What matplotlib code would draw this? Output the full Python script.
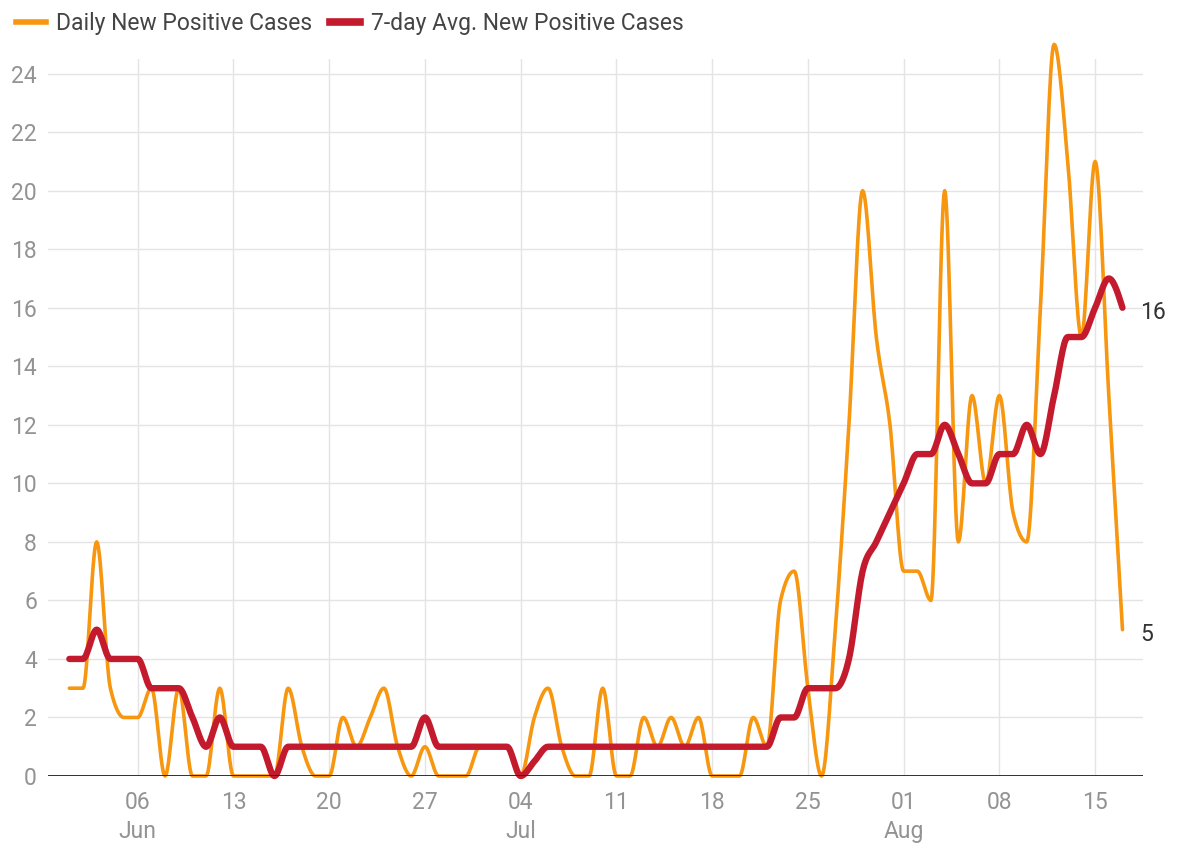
import numpy as np
import pandas as pd
import matplotlib
matplotlib.use('Agg')
import matplotlib.pyplot as plt
import matplotlib.dates as mdates
from matplotlib.lines import Line2D
from matplotlib.ticker import FuncFormatter

plt.rcParams['font.family'] = ['Roboto', 'DejaVu Sans']

dates = pd.date_range('2020-06-01', '2020-08-17', freq='D')

daily_cases = [
    3, 3, 8, 3, 2, 2, 3, 0, 3, 0,        # Jun 1-10
    0, 3, 0, 0, 0, 0, 3, 1, 0, 0,        # Jun 11-20
    2, 1, 2, 3, 1, 0, 1, 0, 0, 0,        # Jun 21-30
    1, 1, 1, 0, 2, 3, 1, 0, 0, 3,        # Jul 1-10
    0, 0, 2, 1, 2, 1, 2, 0, 0, 0,        # Jul 11-20
    2, 1, 6, 7, 3, 0, 5, 12, 20, 15, 12, # Jul 21-31
    7, 7, 6, 20, 8, 13, 10, 13, 9, 8,    # Aug 1-10
    16, 25, 21, 15, 21, 13, 5,           # Aug 11-17
]

avg_cases = [
    4, 4, 5, 4, 4, 4, 3, 3, 3, 2,
    1, 2, 1, 1, 1, 0, 1, 1, 1, 1,
    1, 1, 1, 1, 1, 1, 2, 1, 1, 1,
    1, 1, 1, 0, 0.5, 1, 1, 1, 1, 1,
    1, 1, 1, 1, 1, 1, 1, 1, 1, 1,
    1, 1, 2, 2, 3, 3, 3, 4, 7, 8, 9,
    10, 11, 11, 12, 11, 10, 10, 11, 11, 12,
    11, 13, 15, 15, 16, 17, 16,
]

y_ticks = list(range(0, 25, 2))

ORANGE = '#f7960f'
RED = '#c41a2e'
GRID = '#e4e4e4'
TXT = '#939393'
DARK = '#333333'
FS = 16.5


def monotone(x, y, steps=16):
    # monotone cubic (Steffen) like d3.curveMonotoneX
    x = np.asarray(x, float)
    y = np.asarray(y, float)
    h = np.diff(x)
    s = np.diff(y) / h
    n = len(x)
    t = np.zeros(n)
    for i in range(1, n - 1):
        s0, s1 = s[i - 1], s[i]
        p = (s0 * h[i] + s1 * h[i - 1]) / (h[i - 1] + h[i])
        t[i] = (np.sign(s0) + np.sign(s1)) * min(abs(s0), abs(s1), 0.5 * abs(p))
    t[0] = (3 * s[0] - t[1]) / 2
    t[-1] = (3 * s[-1] - t[-2]) / 2
    xs, ys = [], []
    for i in range(n - 1):
        u = np.linspace(0, 1, steps, endpoint=False)
        h00 = 2 * u**3 - 3 * u**2 + 1
        h10 = u**3 - 2 * u**2 + u
        h01 = -2 * u**3 + 3 * u**2
        h11 = u**3 - u**2
        xs.append(x[i] + u * h[i])
        ys.append(h00 * y[i] + h10 * h[i] * t[i] + h01 * y[i + 1] + h11 * h[i] * t[i + 1])
    xs.append([x[-1]])
    ys.append([y[-1]])
    return np.concatenate(xs), np.concatenate(ys)


xnum = mdates.date2num(dates)

fig = plt.figure(figsize=(11.84, 8.49), dpi=100)
ax = fig.add_axes([48 / 1184, 73 / 849, 1095 / 1184, 717 / 849])

ax.plot(*monotone(xnum, daily_cases), color=ORANGE, lw=2.6,
        solid_capstyle='round', zorder=3, clip_on=False)
ax.plot(*monotone(xnum, avg_cases), color=RED, lw=4.6,
        solid_capstyle='round', zorder=4, clip_on=False)

ax.axhline(0, color='#222222', lw=1.3, zorder=5)

ax.set_xlim(xnum[0] - 1.56, xnum[-1] + 1.5)
ax.set_ylim(0, 24.5)
ax.set_yticks(y_ticks)
ax.xaxis.set_major_locator(mdates.WeekdayLocator(byweekday=mdates.SA))


def fmt(v, pos):
    d = mdates.num2date(v)
    if d.day <= 7:
        return d.strftime('%d') + '\n' + d.strftime('%b')
    return d.strftime('%d')


ax.xaxis.set_major_formatter(FuncFormatter(fmt))
ax.grid(True, color=GRID, lw=1.0, zorder=0)
for s in ax.spines.values():
    s.set_visible(False)
ax.tick_params(axis='both', length=0, colors=TXT, labelsize=FS)
ax.tick_params(axis='x', pad=11)
ax.tick_params(axis='y', pad=8)
for lab in ax.get_xticklabels():
    lab.set_linespacing(1.3)

ax.text(xnum[-1] + 1.3, avg_cases[-1] - 0.15, str(avg_cases[-1]), color=DARK,
        fontsize=FS, va='center', ha='left', clip_on=False)
ax.text(xnum[-1] + 1.3, daily_cases[-1] - 0.15, str(daily_cases[-1]), color=DARK,
        fontsize=FS, va='center', ha='left', clip_on=False)

handles = [Line2D([], [], color=ORANGE, lw=4),
           Line2D([], [], color=RED, lw=5.5)]
fig.legend(handles, ['Daily New Positive Cases', '7-day Avg. New Positive Cases'],
           loc='upper left', bbox_to_anchor=(-0.004, 1.01), ncol=2, frameon=False,
           fontsize=FS, handlelength=1.3, handletextpad=0.45, columnspacing=0.8,
           labelcolor='#444444')

plt.savefig('out.png', dpi=100, facecolor='white')
